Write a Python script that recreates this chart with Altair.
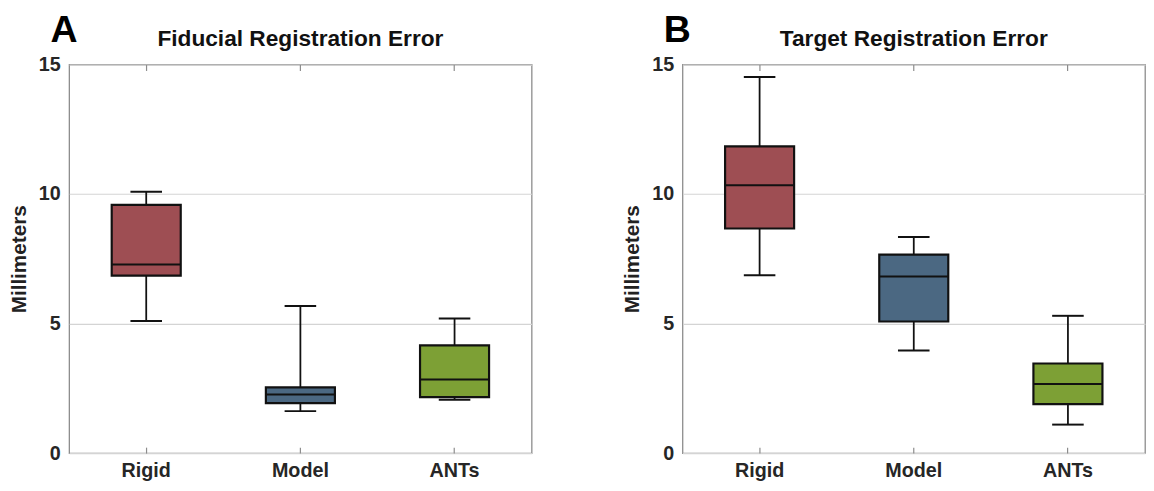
import altair as alt
import pandas as pd

categories = ["Rigid", "Model", "ANTs"]
colors = ["#9E4E53", "#4B6882", "#7DA035"]

# Panel A: Fiducial Registration Error
fre_lower = [5.10, 1.62, 2.06]
fre_q1 = [6.85, 1.93, 2.16]
fre_median = [7.28, 2.26, 2.84]
fre_q3 = [9.58, 2.54, 4.16]
fre_upper = [10.09, 5.68, 5.20]

# Panel B: Target Registration Error
tre_lower = [6.87, 3.96, 1.10]
tre_q1 = [8.67, 5.08, 1.89]
tre_median = [10.34, 6.82, 2.67]
tre_q3 = [11.84, 7.66, 3.46]
tre_upper = [14.52, 8.34, 5.30]

y_ticks = [0, 5, 10, 15]

W, H = 469, 394
FONT = "Liberation Sans"
FRAME = "#8c8c8c"


def panel(letter, title, lower, q1, med, q3, upper):
    df = pd.DataFrame({"cat": categories, "lower": lower, "q1": q1,
                       "median": med, "q3": q3, "upper": upper})
    base = alt.Chart(df)
    xscale = alt.Scale(domain=categories, paddingInner=0, paddingOuter=0)
    x = alt.X("cat:N", sort=categories, scale=xscale,
              axis=alt.Axis(title=None, labelAngle=0, domain=False, ticks=True,
                            tickSize=6, tickColor=FRAME, tickWidth=1.2, offset=-6,
                            labelPadding=8, grid=False))
    x_top = alt.X("cat:N", sort=categories, scale=xscale,
                  axis=alt.Axis(orient="top", title=None, labels=False, domain=False,
                                ticks=True, tickSize=6, tickColor=FRAME, tickWidth=1.2,
                                offset=-6, grid=False))
    yscale = alt.Scale(domain=[0, 15], nice=False, zero=True)

    def Y(field):
        return alt.Y(f"{field}:Q", scale=yscale,
                     axis=alt.Axis(values=y_ticks, title="Millimeters", grid=True,
                                   gridColor="#d4d4d4", gridWidth=1.2, domain=False,
                                   ticks=False, labelPadding=9, titlePadding=9))

    color = alt.Color("cat:N", scale=alt.Scale(domain=categories, range=colors), legend=None)

    whisk = base.mark_rule(color="#111", strokeWidth=1.8).encode(x=x, y=Y("lower"), y2="upper:Q")
    box = base.mark_bar(size=70, stroke="#111", strokeWidth=2.2, opacity=1).encode(
        x=x, y=Y("q1"), y2="q3:Q", color=color)
    medl = base.mark_tick(color="#111", size=70, thickness=2, opacity=1).encode(x=x, y=Y("median"))
    capl = base.mark_tick(color="#111", size=32, thickness=2, opacity=1).encode(x=x, y=Y("lower"))
    capu = base.mark_tick(color="#111", size=32, thickness=2, opacity=1).encode(x=x, y=Y("upper"))

    lab = pd.DataFrame({"t": [letter], "title": [title]})
    letter_txt = alt.Chart(lab).mark_text(
        font=FONT, fontSize=38, fontWeight="bold", align="left", baseline="alphabetic",
        color="#000").encode(x=alt.value(-19), y=alt.value(-23), text="t:N")
    title_txt = alt.Chart(lab).mark_text(
        font=FONT, fontSize=23, fontWeight="bold", align="center", baseline="alphabetic",
        color="#111").encode(x=alt.value(W / 2), y=alt.value(-19), text="title:N")

    top = base.mark_point(opacity=0).encode(x=x_top, y=Y("median"))

    main = alt.layer(whisk, box, medl, capl, capu, letter_txt, title_txt)
    return alt.layer(main, top).resolve_axis(x="independent").properties(width=W, height=H)


pa = panel("A", "Fiducial Registration Error", fre_lower, fre_q1, fre_median, fre_q3, fre_upper)
pb = panel("B", "Target Registration Error", tre_lower, tre_q1, tre_median, tre_q3, tre_upper)

chart = alt.hconcat(pa, pb, spacing=90).properties(
    padding={"top": 0, "left": 0, "right": 0, "bottom": 0},
    background="white",
).configure_view(stroke=FRAME, strokeWidth=1.3).configure_axis(
    labelFont=FONT, labelFontWeight="bold", labelFontSize=20, labelColor="#262626",
    titleFont=FONT, titleFontWeight="bold", titleFontSize=21, titleColor="#222"
)

chart.save("out.html", embed_options={"renderer": "svg", "actions": False})
